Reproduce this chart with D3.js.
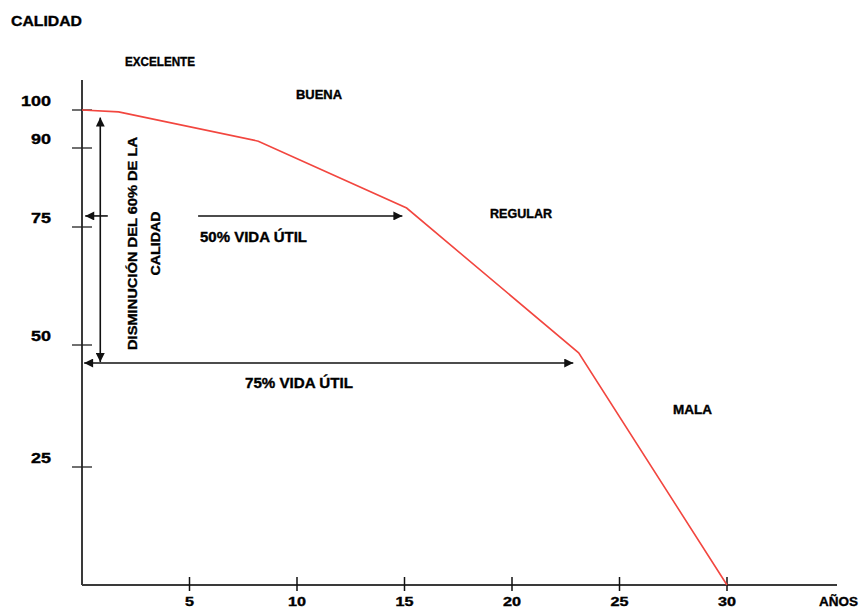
<!DOCTYPE html>
<html>
<head>
<meta charset="utf-8">
<script src="https://cdn.jsdelivr.net/npm/d3@7"></script>
<style>
  html, body { margin: 0; padding: 0; background: #fff; }
  svg { display: block; }
  text { font-family: "Liberation Sans", Arial, sans-serif; font-weight: bold; fill: #000; stroke: #000; stroke-width: 0.35px; }
</style>
</head>
<body>
<svg id="chart" width="859" height="610"></svg>
<script>
// Deterioration curve: quality (%) against age (years)
const years   = [0, 1.7, 8.2, 15.1, 23.1, 30];
const quality = [100, 99.5, 91.8, 78.6, 48.4, 0];

const xTicks = [5, 10, 15, 20, 25, 30];
const yTicks = [25, 50, 75, 90, 100];

const stateLabels = ["EXCELENTE", "BUENA", "REGULAR", "MALA"];

const svg = d3.select("#chart");

const x = d3.scaleLinear().domain([0, 30]).range([82, 727]);
// the quality axis is spaced by hand on the original sketch, so it is piecewise
const y = d3.scaleLinear()
  .domain([0, 25, 50, 75, 90, 100])
  .range([585, 467, 345, 227, 148, 110]);

const axisColor = "#3a3a3a";

// arrow heads
const defs = svg.append("defs");
defs.append("marker")
  .attr("id", "head")
  .attr("viewBox", "0 0 10 10")
  .attr("refX", 10).attr("refY", 5)
  .attr("markerWidth", 10).attr("markerHeight", 9)
  .attr("markerUnits", "userSpaceOnUse")
  .attr("orient", "auto-start-reverse")
  .append("path")
  .attr("d", "M0,0 L10,5 L0,10 Z")
  .attr("fill", "#111");

// axes
svg.append("line")
  .attr("x1", x(0)).attr("x2", 837)
  .attr("y1", y(0)).attr("y2", y(0))
  .attr("stroke", axisColor).attr("stroke-width", 2);
svg.append("line")
  .attr("x1", x(0)).attr("x2", x(0))
  .attr("y1", 80).attr("y2", y(0))
  .attr("stroke", axisColor).attr("stroke-width", 2);

svg.selectAll(".xtick").data(xTicks).join("line")
  .attr("x1", d => x(d)).attr("x2", d => x(d))
  .attr("y1", y(0) - 8).attr("y2", y(0) + 6)
  .attr("stroke", "#111").attr("stroke-width", 1.5);

svg.selectAll(".xlab").data(xTicks).join("text")
  .attr("x", d => x(d)).attr("y", 606)
  .attr("text-anchor", "middle")
  .attr("font-size", 12)
  .attr("textLength", d => String(d).length * 9)
  .attr("lengthAdjust", "spacingAndGlyphs")
  .text(d => d);

svg.selectAll(".ytick").data(yTicks).join("line")
  .attr("x1", x(0) - 10).attr("x2", x(0) + 10)
  .attr("y1", d => y(d)).attr("y2", d => y(d))
  .attr("stroke", "#222").attr("stroke-width", 1.3);

svg.selectAll(".ylab").data(yTicks).join("text")
  .attr("x", 51).attr("y", d => y(d) - 4)
  .attr("text-anchor", "end")
  .attr("font-size", 14)
  .attr("textLength", d => String(d).length * 10)
  .attr("lengthAdjust", "spacingAndGlyphs")
  .text(d => d);

// axis titles
svg.append("text").attr("x", 11).attr("y", 26)
  .attr("font-size", 14).attr("textLength", 71).attr("lengthAdjust", "spacingAndGlyphs")
  .text("CALIDAD");
svg.append("text").attr("x", 819).attr("y", 606)
  .attr("font-size", 13).attr("textLength", 39).attr("lengthAdjust", "spacingAndGlyphs")
  .text("AÑOS");

// quality curve
const pts = years.map((t, i) => [t, quality[i]]);
svg.append("path")
  .datum(pts)
  .attr("d", d3.line().x(d => x(d[0])).y(d => y(d[1])))
  .attr("fill", "none")
  .attr("stroke", "#f2463f")
  .attr("stroke-width", 1.6);

// state labels along the curve
const statePos = [[125, 66, 70], [296, 99, 46], [490, 218, 62], [673, 414, 39]];
svg.selectAll(".state").data(stateLabels).join("text")
  .attr("x", (d, i) => statePos[i][0])
  .attr("y", (d, i) => statePos[i][1])
  .attr("textLength", (d, i) => statePos[i][2])
  .attr("lengthAdjust", "spacingAndGlyphs")
  .attr("font-size", 12)
  .text(d => d);

// helper for arrow lines
function arrow(x1, y1, x2, y2, start, end) {
  const l = svg.append("line")
    .attr("x1", x1).attr("y1", y1).attr("x2", x2).attr("y2", y2)
    .attr("stroke", "#111").attr("stroke-width", 1.6);
  if (start) l.attr("marker-start", "url(#head)");
  if (end) l.attr("marker-end", "url(#head)");
}

// 60 % quality drop (vertical double arrow)
arrow(x(0.85), y(98), x(0.85), y(46.5), true, true);

// 50 % useful life (broken horizontal arrow)
arrow(x(0.15), y(77.1), x(1.2), y(77.1), true, false);
arrow(x(5.4), y(77.1), x(14.9), y(77.1), false, true);

// 75 % useful life
arrow(x(0.1), y(46.3), x(22.85), y(46.3), true, true);

svg.append("text").attr("x", 200).attr("y", 242)
  .attr("font-size", 14).attr("textLength", 107).attr("lengthAdjust", "spacingAndGlyphs")
  .text("50% VIDA ÚTIL");
svg.append("text").attr("x", 245).attr("y", 388)
  .attr("font-size", 14).attr("textLength", 108).attr("lengthAdjust", "spacingAndGlyphs")
  .text("75% VIDA ÚTIL");

// rotated note beside the vertical arrow
const note = svg.append("g").attr("transform", "translate(137,243.5) rotate(-90)");
note.append("text").attr("x", 0).attr("y", 0)
  .attr("text-anchor", "middle").attr("font-size", 13)
  .attr("textLength", 213).attr("lengthAdjust", "spacingAndGlyphs")
  .text("DISMINUCIÓN DEL 60% DE LA");
note.append("text").attr("x", 0).attr("y", 23)
  .attr("text-anchor", "middle").attr("font-size", 13)
  .attr("textLength", 64).attr("lengthAdjust", "spacingAndGlyphs")
  .text("CALIDAD");
</script>
</body>
</html>
